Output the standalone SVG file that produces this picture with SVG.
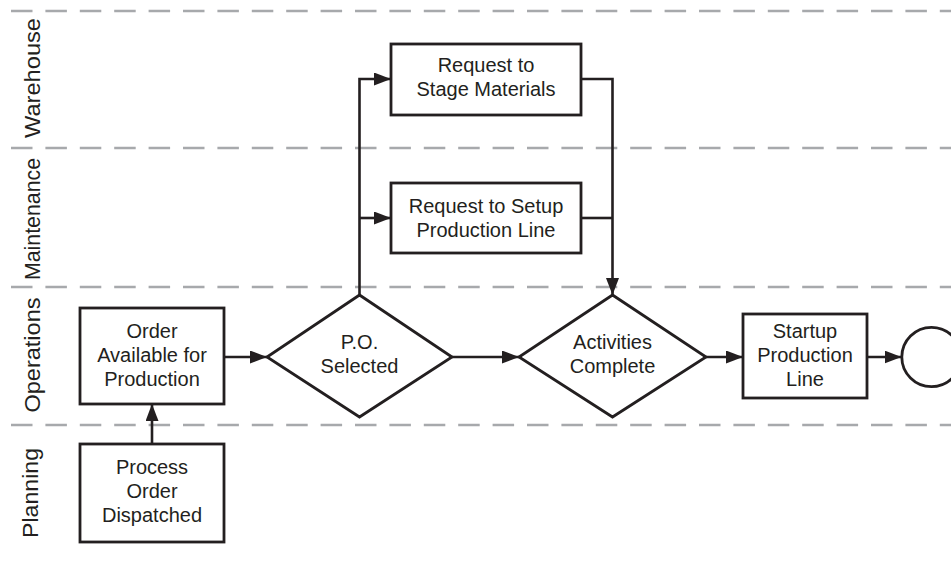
<svg xmlns="http://www.w3.org/2000/svg" width="951" height="561" viewBox="0 0 951 561">
<defs>
<style>
.lane{stroke:#a7a9ac;stroke-width:2.6;stroke-dasharray:21.5 12.9;fill:none}
.lbl{font-family:"Liberation Sans",Arial,sans-serif;font-size:21.5px;fill:#231f20;text-anchor:middle}
.shape{fill:#fff;stroke:#231f20;stroke-width:2.8}
.t{font-family:"Liberation Sans",Arial,sans-serif;font-size:20px;fill:#231f20;text-anchor:middle}
.conn{fill:none;stroke:#231f20;stroke-width:2.6;stroke-linejoin:miter}
</style>
<marker id="arr" markerUnits="userSpaceOnUse" markerWidth="18" markerHeight="14" refX="17" refY="6.5" orient="auto">
<path d="M0,0 L17,6.5 L0,13 z" fill="#231f20"/>
</marker>
</defs>
<rect width="951" height="561" fill="#fff"/>
<g id="lanes">
<line class="lane" x1="11" y1="11" x2="951" y2="11"/>
<line class="lane" x1="11" y1="148" x2="951" y2="148"/>
<line class="lane" x1="11" y1="287" x2="951" y2="287"/>
<line class="lane" x1="11" y1="425" x2="951" y2="425"/>
<text class="lbl" transform="translate(40,78) rotate(-90)" textLength="120" lengthAdjust="spacingAndGlyphs">Warehouse</text>
<text class="lbl" transform="translate(40,219) rotate(-90)" textLength="122" lengthAdjust="spacingAndGlyphs">Maintenance</text>
<text class="lbl" transform="translate(40,355) rotate(-90)" textLength="115" lengthAdjust="spacingAndGlyphs">Operations</text>
<text class="lbl" transform="translate(38,493) rotate(-90)" textLength="90" lengthAdjust="spacingAndGlyphs">Planning</text>
</g>
<g id="connectors">
<path class="conn" d="M152,444 L152,404" marker-end="url(#arr)"/>
<path class="conn" d="M224,357 L267,357" marker-end="url(#arr)"/>
<path class="conn" d="M359.5,295 L359.5,79 L391,79" marker-end="url(#arr)"/>
<path class="conn" d="M359.5,218 L391,218" marker-end="url(#arr)"/>
<path class="conn" d="M581,79 L612.5,79 L612.5,295" marker-end="url(#arr)"/>
<path class="conn" d="M581,218 L612.5,218"/>
<path class="conn" d="M452,357 L519,357" marker-end="url(#arr)"/>
<path class="conn" d="M706,357 L743,357" marker-end="url(#arr)"/>
<path class="conn" d="M867,357 L901.5,357" marker-end="url(#arr)"/>
</g>
<g id="node-order-available">
<rect class="shape" x="80" y="308" width="144" height="96"/>
<text class="t" x="152" y="338">Order</text>
<text class="t" x="152" y="362">Available for</text>
<text class="t" x="152" y="386">Production</text>
</g>
<g id="node-process-order">
<rect class="shape" x="80" y="444" width="144" height="98"/>
<text class="t" x="152" y="474">Process</text>
<text class="t" x="152" y="498">Order</text>
<text class="t" x="152" y="522">Dispatched</text>
</g>
<g id="node-po-selected">
<polygon class="shape" points="359.5,295 452,357 359.5,417 267,357"/>
<text class="t" x="359.5" y="349">P.O.</text>
<text class="t" x="359.5" y="373">Selected</text>
</g>
<g id="node-stage-materials">
<rect class="shape" x="391" y="44" width="190" height="71"/>
<text class="t" x="486" y="72">Request to</text>
<text class="t" x="486" y="96">Stage Materials</text>
</g>
<g id="node-setup-line">
<rect class="shape" x="391" y="183" width="190" height="70"/>
<text class="t" x="486" y="213">Request to Setup</text>
<text class="t" x="486" y="237">Production Line</text>
</g>
<g id="node-activities-complete">
<polygon class="shape" points="612.5,295 706,357 612.5,417 519,357"/>
<text class="t" x="612.5" y="349">Activities</text>
<text class="t" x="612.5" y="373">Complete</text>
</g>
<g id="node-startup">
<rect class="shape" x="743" y="314" width="124" height="84"/>
<text class="t" x="805" y="338">Startup</text>
<text class="t" x="805" y="362">Production</text>
<text class="t" x="805" y="386">Line</text>
</g>
<g id="node-end">
<circle class="shape" cx="931.5" cy="357" r="29.7"/>
</g>
</svg>
